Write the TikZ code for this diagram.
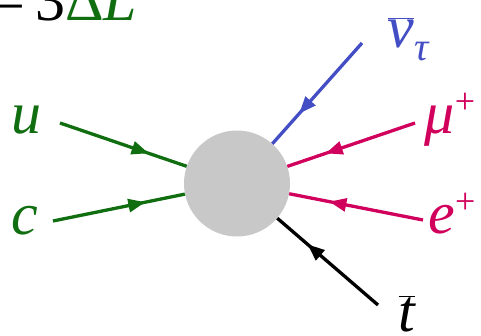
\documentclass[tikz,border=0pt]{standalone}
\usepackage{fontspec}
\setmainfont{Liberation Serif}
\usetikzlibrary{arrows.meta,decorations.markings}
\definecolor{qgreen}{RGB}{16,110,16}
\definecolor{nublue}{RGB}{68,78,196}
\definecolor{lepred}{RGB}{208,0,92}
\definecolor{blobgray}{RGB}{200,200,200}
\tikzset{
  lbl/.style={inner sep=0pt, anchor=base, font=\fontsize{60}{60}\selectfont\itshape},
  fermion/.style={line width=3.3pt, postaction={decorate},
    decoration={markings, mark=at position 0.7 with {\arrow{Triangle[length=17pt,width=13pt]}}}}
}
\begin{document}
\begin{tikzpicture}[x=1pt,y=-1pt]
\useasboundingbox (0,0) rectangle (481,335);
\clip (0,0) rectangle (481,335);
% header text
\node[lbl, anchor=base west, font=\fontsize{60}{60}\selectfont] (hdr) at (-9,20) {=\,3\textcolor{qgreen}{Δ\textit{L}}};
% blob
\node[circle, fill=blobgray, minimum size=106pt, inner sep=0pt] (blob) at (237,183.5) {};
% outer ends
\coordinate (ue) at (60,123);
\coordinate (ce) at (53,221);
\coordinate (nue) at (362,43);
\coordinate (mue) at (415,123);
\coordinate (ee) at (423,220);
\coordinate (te) at (378,305);
% labels
\node[lbl, text=qgreen] (ul) at (27,133) {u};
\node[lbl, text=qgreen] (cl) at (25,234) {c};
\node[lbl, text=nublue] (nul) at (408,47) {$\overline{\hbox{\itshape ν}}$\raisebox{-0.22em}{\fontsize{40}{40}\selectfont τ}};
\node[lbl, text=lepred] (mul) at (450,133) {μ\raisebox{0.33em}{\fontsize{36}{36}\selectfont\upshape +}};
\node[lbl, text=lepred] (el) at (452,233) {e\raisebox{0.33em}{\fontsize{36}{36}\selectfont\upshape +}};
\node[lbl, text=black] (tl) at (407,331) {$\overline{\hbox{\itshape t}}$};
% lines
\draw[fermion, qgreen] (ue) -- (blob);
\draw[fermion, qgreen] (ce) -- (blob);
\draw[fermion, nublue] (nue) -- (blob);
\draw[fermion, lepred] (mue) -- (blob);
\draw[fermion, lepred] (ee) -- (blob);
\draw[fermion, black] (te) -- (blob);
\end{tikzpicture}
\end{document}
